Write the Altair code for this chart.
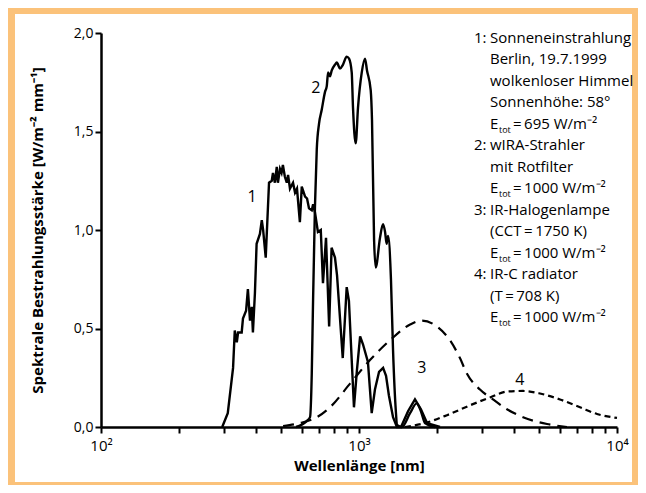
import altair as alt
import pandas as pd

# ---- data (wavelength in nm, spectral irradiance) ----
sun_wl = [295, 310, 325, 330, 336, 340, 351, 355, 365, 371, 378, 384, 388, 395, 401, 413, 420, 425,
          435, 448, 459, 464, 472, 480, 485, 494, 501, 507, 516, 525, 531, 540, 555, 565, 575, 590,
          600, 618, 629, 640, 656, 664, 675, 693, 711, 725, 745, 766, 783, 807, 822, 865, 896, 914,
          956, 982, 1010, 1036, 1083, 1120, 1153, 1196, 1240, 1273, 1306, 1355, 1403, 1455, 1549,
          1648, 1738, 1835, 2060]
sun_val = [0.00, 0.07, 0.30, 0.49, 0.43, 0.48, 0.48, 0.55, 0.59, 0.70, 0.54, 0.61, 0.48, 0.68, 0.93,
           0.98, 1.05, 1.00, 0.86, 1.24, 1.25, 1.29, 1.24, 1.32, 1.24, 1.31, 1.29, 1.33, 1.27, 1.24,
           1.28, 1.21, 1.24, 1.19, 1.21, 1.04, 1.22, 1.17, 1.16, 1.11, 1.10, 1.13, 1.09, 0.99, 1.00,
           0.73, 0.96, 0.51, 0.91, 0.86, 0.77, 0.35, 0.71, 0.64, 0.10, 0.29, 0.46, 0.42, 0.33, 0.07,
           0.19, 0.28, 0.30, 0.26, 0.16, 0.05, 0.00, 0.00, 0.08, 0.14, 0.09, 0.02, 0.00]

wira_wl = [570, 627, 646, 656, 663, 675, 686, 700, 717, 738, 750, 759, 772, 784, 808, 820, 844, 867,
           896, 915, 937, 948, 971, 991, 1025, 1055, 1074, 1110, 1123, 1144, 1161, 1206, 1239, 1262,
           1280, 1296, 1330, 1355, 1391, 1403, 1468, 1577, 1673, 1738, 1803, 1971]
wira_val = [0.00, 0.03, 0.05, 0.27, 0.61, 1.12, 1.41, 1.54, 1.61, 1.70, 1.73, 1.80, 1.78, 1.81, 1.84,
            1.85, 1.82, 1.84, 1.88, 1.87, 1.80, 1.62, 1.44, 1.62, 1.80, 1.87, 1.81, 1.71, 1.56, 0.95,
            0.81, 0.96, 1.03, 0.99, 0.93, 0.97, 0.75, 0.39, 0.07, 0.01, 0.00, 0.07, 0.12, 0.08, 0.02,
            0.00]

halo_wl = [508, 590, 687, 772, 923, 1103, 1318, 1577, 1750, 2006, 2253, 2462, 2622, 2944, 3306, 3747,
           4323, 5355, 6397]
halo_val = [0.005, 0.02, 0.05, 0.10, 0.22, 0.34, 0.44, 0.52, 0.54, 0.51, 0.44, 0.35, 0.27, 0.19,
            0.14, 0.09, 0.05, 0.015, 0.00]

irc_wl = [1507, 1803, 2193, 2692, 3220, 3747, 4323, 5030, 6012, 7190, 8364, 10000]
irc_val = [0.00, 0.02, 0.06, 0.11, 0.15, 0.18, 0.183, 0.17, 0.14, 0.10, 0.066, 0.046]

label_txt = ["1", "2", "3", "4"]
label_wl = [385, 681, 1750, 4200]
label_val = [1.17, 1.72, 0.30, 0.24]

x_ticks = [100, 200, 300, 400, 500, 600, 700, 800, 900, 1000, 2000, 3000, 4000, 5000, 6000,
           7000, 8000, 9000, 10000]
y_ticks = [0, 0.5, 1.0, 1.5, 2.0]

legend_num = ["1:", "", "", "", "", "2:", "", "", "3:", "", "", "4:", "", ""]
legend_main = ["Sonneneinstrahlung", "Berlin, 19.7.1999", "wolkenloser Himmel",
               "Sonnenhöhe: 58°", "E", "wIRA-Strahler", "mit Rotfilter", "E",
               "IR-Halogenlampe", "(CCT\u2009=\u20091750 K)", "E", "IR-C radiator",
               "(T\u2009=\u2009708 K)", "E"]
legend_sub = ["", "", "", "", "tot", "", "", "tot", "", "", "tot", "", "", "tot"]
legend_val = ["", "", "", "", "=\u2009695 W/m\u207b\u00b2", "", "", "=\u20091000 W/m\u207b\u00b2",
              "", "", "=\u20091000 W/m\u207b\u00b2", "", "", "=\u20091000 W/m\u207b\u00b2"]

FONT = "Open Sans"


def df(wl, val):
    return pd.DataFrame({"wl": wl, "val": val})


x_enc = alt.X(
    "wl:Q",
    scale=alt.Scale(type="log", domain=[100, 10000], nice=False),
    axis=alt.Axis(
        values=x_ticks,
        labelExpr="datum.value == 100 ? '10²' : datum.value == 1000 ? '10³' : datum.value == 10000 ? '10⁴' : ''",
        title="Wellenlänge [nm]",
        grid=False,
        tickSize=6, tickWidth=2, tickColor="black",
        domainWidth=2.5, domainColor="black",
        labelFont=FONT, labelFontSize=15, labelColor="black", labelPadding=5,
        labelFlush=False, labelOverlap=False,
        titleFont=FONT, titleFontSize=15, titleFontWeight="bold", titleColor="black",
        titlePadding=5,
    ),
)
y_enc = alt.Y(
    "val:Q",
    scale=alt.Scale(domain=[0, 2], nice=False),
    axis=alt.Axis(
        values=y_ticks,
        labelExpr="replace(format(datum.value, '.1f'), '.', ',')",
        title="Spektrale Bestrahlungsstärke [W/m\u207b\u00b2 mm\u207b\u00b9]",
        grid=False,
        tickSize=6, tickWidth=2, tickColor="black",
        domainWidth=2.5, domainColor="black",
        labelFont=FONT, labelFontSize=14, labelColor="black", labelPadding=2,
        labelOverlap=False,
        titleFont=FONT, titleFontSize=15, titleFontWeight="bold", titleColor="black",
        titlePadding=28,
    ),
)

sun = alt.Chart(df(sun_wl, sun_val)).mark_line(color="black", strokeWidth=2.4).encode(x=x_enc, y=y_enc)
wira = alt.Chart(df(wira_wl, wira_val)).mark_line(color="black", strokeWidth=2.4, interpolate="monotone").encode(x=x_enc, y=y_enc)
halo = alt.Chart(df(halo_wl, halo_val)).mark_line(color="black", strokeWidth=2.2, strokeDash=[11, 7], interpolate="monotone").encode(x=x_enc, y=y_enc)
irc = alt.Chart(df(irc_wl, irc_val)).mark_line(color="black", strokeWidth=2.2, strokeDash=[6, 4], interpolate="monotone").encode(x=x_enc, y=y_enc)

labels = alt.Chart(pd.DataFrame({"wl": label_wl, "val": label_val, "t": label_txt})).mark_text(
    font=FONT, fontSize=16, color="black"
).encode(x=x_enc, y=y_enc, text="t:N")

one = alt.Data(values=[{"k": 1}])

legend_layers = []
ROW0, ROWH = 9.5, 21.5
for i in range(len(legend_main)):
    yb = ROW0 + ROWH * i
    for txt, xp, fs, dy in ((legend_num[i], 373, 15, 0), (legend_main[i], 389, 15, 0),
                            (legend_sub[i], 398, 9, 4), (legend_val[i], 412, 15, 0)):
        if not txt:
            continue
        legend_layers.append(
            alt.Chart(one).mark_text(font=FONT, fontSize=fs, color="black", align="left",
                                     baseline="alphabetic", dy=dy).encode(
                x=alt.value(xp), y=alt.value(yb), text=alt.value(txt))
        )

frame = alt.Chart(one).mark_rect(filled=False, stroke="#fbc27a", strokeWidth=8).encode(
    x=alt.value(-90), x2=alt.value(535), y=alt.value(-23), y2=alt.value(453))

chart = alt.layer(frame, halo, irc, sun, wira, labels, *legend_layers).properties(
    width=516, height=394,
    autosize=alt.AutoSizeParams(type="none"),
    padding={"left": 93, "top": 25, "right": 21, "bottom": 58},
    background="white",
).configure_view(stroke=None)

chart.save("out.html", embed_options={"renderer": "svg", "actions": False})
